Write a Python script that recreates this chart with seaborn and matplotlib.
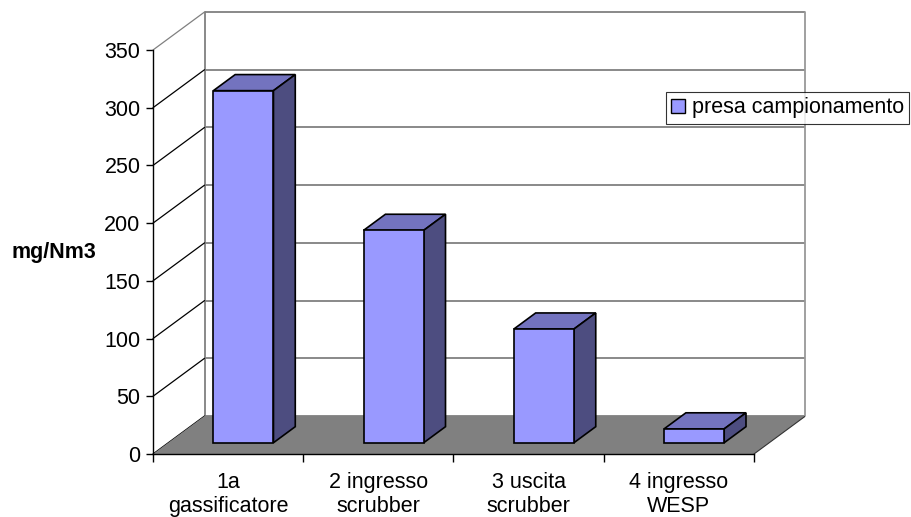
import numpy as np
import pandas as pd
import matplotlib
matplotlib.use("Agg")
import matplotlib.pyplot as plt
from matplotlib.patches import Polygon, Patch
import seaborn as sns

# Sampling points and measured concentrations
categories = ["1a\ngassificatore", "2 ingresso\nscrubber", "3 uscita\nscrubber", "4 ingresso\nWESP"]
values = [305, 184, 98.5, 12]
series_name = "presa campionamento"
y_ticks = [0, 50, 100, 150, 200, 250, 300, 350]
y_label = "mg/Nm3"

# Colours
FRONT = "#9999FF"
TOP = "#7373BF"
SIDE = "#4D4D80"
FLOOR = "#808080"
GRID = "#808080"

# Pseudo-3D depth vector (in data units: categories, value units)
DX, DY = 0.343, 32.9
F0, F1 = 0.297, 0.72   # depth fraction of bar front / back

sns.set_theme(style="white")
plt.rcParams["font.family"] = ["Liberation Sans", "DejaVu Sans"]
plt.rcParams["text.color"] = "black"
plt.rcParams["axes.labelcolor"] = "black"
plt.rcParams["xtick.color"] = "black"
plt.rcParams["ytick.color"] = "black"

fig = plt.figure(figsize=(9.11, 5.17), dpi=100)
ax = fig.add_axes([153 / 911, 63 / 517, 652.5 / 911, 442 / 517])

df = pd.DataFrame({"punto": categories, "valore": values})
sns.barplot(data=df, x="punto", y="valore", color=FRONT, width=0.4,
            edgecolor="black", linewidth=1.2, saturation=1, ax=ax, zorder=5)

xlo, xhi = -0.5, len(categories) - 0.5
ymax = y_ticks[-1]

# back wall: horizontal gridlines and edges
for v in y_ticks:
    ax.plot([xlo + DX, xhi + DX], [v + DY, v + DY], color=GRID, lw=1.3,
            zorder=1, solid_capstyle="butt", clip_on=False)
for xe in (xlo + DX, xhi + DX):
    ax.plot([xe, xe], [DY, ymax + DY], color="#999999" if xe > 0 else GRID,
            lw=1.3, zorder=1, clip_on=False)

# left wall: diagonal gridlines
for v in y_ticks:
    ax.plot([xlo, xlo + DX], [v, v + DY], color=GRID if v == ymax else "black",
            lw=0.9, zorder=2, clip_on=False)

# floor
ax.add_patch(Polygon([(xlo, 0), (xhi, 0), (xhi + DX, DY), (xlo + DX, DY)],
                     closed=True, facecolor=FLOOR, edgecolor="none", zorder=2))
ax.plot([xhi, xhi + DX], [0, DY], color="#333333", lw=0.8, zorder=2)

# bars: shift front faces into depth, then add top and side faces
ddx, ddy = (F1 - F0) * DX, (F1 - F0) * DY
bars = [p for p in ax.patches if p.get_zorder() == 5]
for p, v in zip(bars, values):
    p.set_x(p.get_x() + F0 * DX)
    p.set_y(F0 * DY)
    p.set_height(v)
    x0 = p.get_x()
    x1 = x0 + p.get_width()
    b = F0 * DY
    t = b + v
    ax.add_patch(Polygon([(x0, t), (x1, t), (x1 + ddx, t + ddy), (x0 + ddx, t + ddy)],
                         closed=True, facecolor=TOP, edgecolor="black", lw=1.2, zorder=4))
    ax.add_patch(Polygon([(x1, b), (x1 + ddx, b + ddy), (x1 + ddx, t + ddy), (x1, t)],
                         closed=True, facecolor=SIDE, edgecolor="black", lw=1.2, zorder=4))

ax.set_xlim(xlo, xhi + DX)
ax.set_ylim(0, ymax + DY)

# axes, ticks, labels
for s in ("top", "right"):
    ax.spines[s].set_visible(False)
for s in ("left", "bottom"):
    ax.spines[s].set_color("black")
    ax.spines[s].set_linewidth(1.0)
    ax.spines[s].set_zorder(6)
ax.spines["left"].set_bounds(0, ymax)
ax.spines["bottom"].set_bounds(xlo, xhi)

ax.set_yticks(y_ticks)
ax.set_yticklabels([str(v) for v in y_ticks])
ax.tick_params(axis="y", which="major", direction="out", length=5, width=1,
               color="black", labelcolor="black", labelsize=15.5, pad=4, left=True)

ax.set_xticks(np.arange(xlo, xhi + 0.01, 1.0))
ax.set_xticklabels([])
ax.set_xticks(np.arange(len(categories)), minor=True)
ax.set_xticklabels(categories, minor=True, fontsize=15.5, linespacing=1.2)
ax.tick_params(axis="x", which="major", direction="out", length=6, width=1,
               color="black", bottom=True)
ax.tick_params(axis="x", which="minor", length=0, pad=13, labelcolor="black")

ax.set_xlabel("")
ax.set_ylabel(y_label, rotation=0, fontsize=15.5, fontweight="bold",
              ha="center", va="center", color="black")
ax.yaxis.set_label_coords(-0.152, 0.455)

leg = ax.legend(handles=[Patch(facecolor=FRONT, edgecolor="black", lw=1.0, label=series_name)],
                loc="upper left", bbox_to_anchor=(666 / 911, (517 - 92) / 517),
                bbox_transform=fig.transFigure, borderaxespad=0, fontsize=15.5,
                frameon=True, fancybox=False, shadow=False, handlelength=0.65,
                handleheight=0.65, handletextpad=0.3, borderpad=0.25)
leg.get_frame().set_edgecolor("black")
leg.get_frame().set_linewidth(0.8)
for txt in leg.get_texts():
    txt.set_color("black")
leg.set_zorder(10)

fig.savefig("out.png", dpi=100)
